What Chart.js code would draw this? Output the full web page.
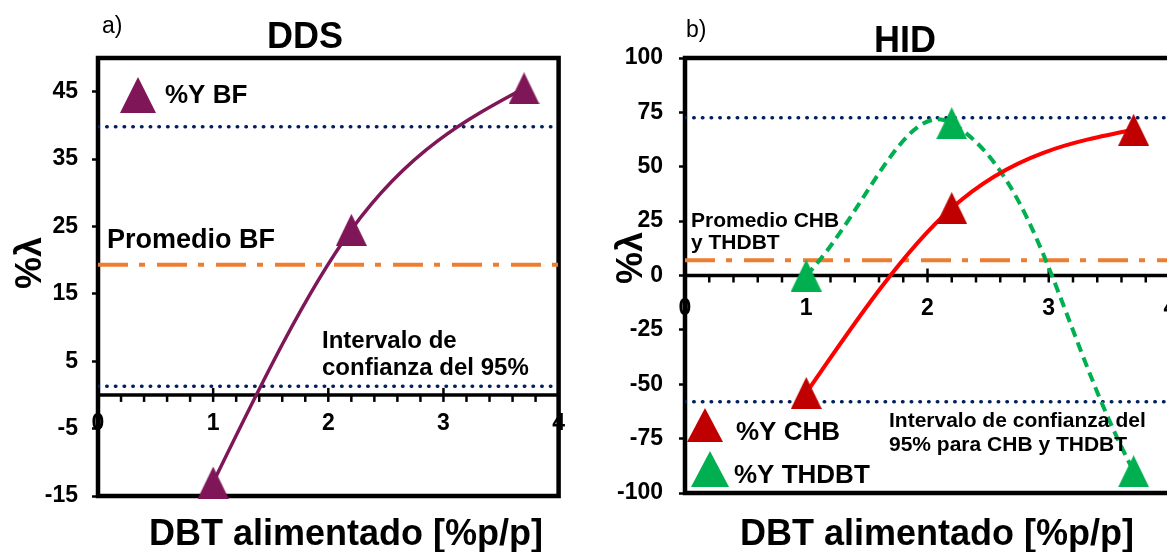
<!DOCTYPE html>
<html>
<head>
<meta charset="utf-8">
<script src="https://cdn.jsdelivr.net/npm/chart.js@4.4.1/dist/chart.umd.min.js"></script>
<style>
  html, body { margin: 0; padding: 0; background: #fff; overflow: hidden; }
  #wrap { position: relative; width: 1167px; height: 552px; overflow: hidden; background: #fff; }
  canvas { position: absolute; top: 0; }
  #dds { left: 0; }
  #hid { left: 580px; }
</style>
</head>
<body>
<div id="wrap">
  <canvas id="dds" width="580" height="552"></canvas>
  <canvas id="hid" width="620" height="552"></canvas>
</div>
<script>
const FONT = "'Liberation Sans', Arial, Helvetica, sans-serif";

// DBT fed, %w/w
const dbtFed = [1, 2.2, 3.7];
const xRange = [0, 4];
const xTicks = [0, 1, 2, 3, 4];

// a) DDS
const yieldBF = [-13, 24.5, 45.5];
const meanBF = 19.3;
const ciBF = [1.3, 39.8];
const yTicksDDS = [-15, -5, 5, 15, 25, 35, 45];

// b) HID
const yieldCHB = [-54, 31, 67];
const yieldTHDBT = [0, 70, -90];
const meanHID = 7;
const ciHID = [-58, 72.5];
const yTicksHID = [-100, -75, -50, -25, 0, 25, 50, 75, 100];

const PURPLE = '#7f1657';
const RED_MARK = '#c00000';
const RED_LINE = '#ff0000';
const GREEN = '#00b050';
const NAVY = '#002060';
const ORANGE = '#ed7d31';

function triangle(color, w, h) {
  const c = document.createElement('canvas');
  c.width = w; c.height = h;
  const g = c.getContext('2d');
  g.fillStyle = color;
  g.beginPath();
  g.moveTo(w / 2, 0); g.lineTo(w, h); g.lineTo(0, h);
  g.closePath(); g.fill();
  return c;
}

function series(ys, markColor, lineColor, width, dash, natural) {
  return {
    data: dbtFed.map((x, i) => ({ x, y: ys[i] })),
    showLine: true,
    tension: 0.4,
    naturalSpline: !!natural,
    borderColor: lineColor,
    borderWidth: width,
    borderDash: dash || [],
    backgroundColor: markColor,
    pointStyle: triangle(markColor, 31, 32),
    pointRadius: 16,
    clip: false
  };
}

function refLine(y, color, width, dash, cap) {
  return {
    data: xRange.map(x => ({ x, y })),
    showLine: true,
    tension: 0,
    borderColor: color,
    borderWidth: width,
    borderDash: dash,
    borderCapStyle: cap || 'butt',
    pointRadius: 0
  };
}

function scaleSet(yMin, yMax, yTicks, yWidth, yPad, xPad) {
  const tickFont = { family: FONT, size: 23, weight: 'bold', lineHeight: 1.2 };
  return {
    x: {
      type: 'linear', axis: 'x', min: xRange[0], max: xRange[1],
      position: { y: 0 },
      afterBuildTicks: s => { s.ticks = xTicks.map(v => ({ value: v })); },
      grid: { display: false, drawTicks: false },
      border: { display: false },
      ticks: { color: '#000', font: tickFont, padding: xPad, maxRotation: 0, autoSkip: false, callback: v => String(v) }
    },
    y: {
      type: 'linear', min: yMin, max: yMax, position: 'left',
      afterBuildTicks: s => { s.ticks = yTicks.map(v => ({ value: v })); },
      afterFit: s => { s.width = yWidth; },
      grid: { drawOnChartArea: false, drawTicks: true, tickLength: 6, tickWidth: 2.5, tickColor: '#000' },
      border: { display: false },
      ticks: { color: '#000', font: tickFont, padding: yPad, autoSkip: false, callback: v => String(v) }
    }
  };
}

// natural cubic spline through the line's points (zero curvature at both ends)
const naturalSpline = {
  id: 'naturalSpline',
  beforeDatasetDraw(chart, args) {
    const ds = chart.data.datasets[args.index];
    const line = args.meta.dataset;
    if (!ds.naturalSpline || !line) return;
    line.updateControlPoints(chart.chartArea, 'x');
    const p = line.points;
    const n = p.length;
    if (n < 3) return;
    const h = [], d = [];
    for (let i = 0; i < n - 1; i++) {
      h.push(p[i + 1].x - p[i].x);
      d.push((p[i + 1].y - p[i].y) / h[i]);
    }
    // tridiagonal solve for the inner second derivatives
    const M = new Array(n).fill(0);
    const c = [], r = [];
    for (let i = 1; i < n - 1; i++) {
      const a = h[i - 1], b = 2 * (h[i - 1] + h[i]), cc = h[i];
      let rhs = 6 * (d[i] - d[i - 1]);
      let bb = b;
      if (i > 1) { const w = a / c[c.length - 1].b; bb = b - w * c[c.length - 1].c; rhs -= w * r[r.length - 1]; }
      c.push({ b: bb, c: cc });
      r.push(rhs);
    }
    for (let k = c.length - 1; k >= 0; k--) {
      const next = k + 2 < n ? M[k + 2] : 0;
      M[k + 1] = (r[k] - c[k].c * next) / c[k].b;
    }
    const m = [];
    for (let i = 0; i < n - 1; i++) m.push(d[i] - h[i] * (2 * M[i] + M[i + 1]) / 6);
    m.push(d[n - 2] + h[n - 2] * (M[n - 2] + 2 * M[n - 1]) / 6);
    for (let i = 0; i < n; i++) {
      if (i > 0) { p[i].cp1x = p[i].x - h[i - 1] / 3; p[i].cp1y = p[i].y - m[i] * h[i - 1] / 3; }
      if (i < n - 1) { p[i].cp2x = p[i].x + h[i] / 3; p[i].cp2y = p[i].y + m[i] * h[i] / 3; }
    }
  }
};

// plot frame, axis line through y = 0 and its major/minor tick marks
function makeFrame(rightSide) {
  return {
    id: 'frame',
    beforeDatasetsDraw(chart) {
      const { ctx, chartArea: a, scales: { x, y } } = chart;
      ctx.save();
      ctx.strokeStyle = '#000';
      ctx.lineWidth = 4.5;
      ctx.beginPath();
      if (rightSide) {
        ctx.rect(a.left, a.top, a.right - a.left, a.bottom - a.top);
      } else {
        ctx.moveTo(a.right + 5, a.top);
        ctx.lineTo(a.left, a.top);
        ctx.lineTo(a.left, a.bottom);
        ctx.lineTo(a.right + 5, a.bottom);
      }
      ctx.stroke();
      const y0 = y.getPixelForValue(0);
      ctx.lineWidth = 3.5;
      ctx.beginPath(); ctx.moveTo(a.left, y0); ctx.lineTo(a.right, y0); ctx.stroke();
      ctx.lineWidth = 2.5;
      for (let i = 0; i <= 20; i++) {
        const px = x.getPixelForValue(i / 5);
        const major = i % 5 === 0;
        ctx.beginPath();
        ctx.moveTo(px, major ? y0 - 7 : y0);
        ctx.lineTo(px, y0 + 7);
        ctx.stroke();
      }
      ctx.restore();
    }
  };
}

function txt(ctx, s, x, y, size, weight, align) {
  ctx.font = `${weight || 'bold'} ${size}px ${FONT}`;
  ctx.textAlign = align || 'left';
  ctx.textBaseline = 'alphabetic';
  ctx.fillStyle = '#000';
  ctx.fillText(s, x, y);
}

function vtxt(ctx, s, cx, cy, size) {
  ctx.save();
  ctx.translate(cx, cy);
  ctx.rotate(-Math.PI / 2);
  ctx.font = `bold ${size}px ${FONT}`;
  ctx.textAlign = 'center';
  ctx.textBaseline = 'middle';
  ctx.fillStyle = '#000';
  ctx.fillText(s, 0, 0);
  ctx.restore();
}

const labelsDDS = {
  id: 'labelsDDS',
  afterDraw(chart) {
    const ctx = chart.ctx;
    ctx.save();
    txt(ctx, 'a)', 102, 33, 23, 'normal');
    txt(ctx, 'DDS', 305, 48, 36, 'bold', 'center');
    ctx.drawImage(triangle(PURPLE, 36, 36), 120, 77);
    txt(ctx, '%Y BF', 165, 103, 26);
    txt(ctx, 'Promedio BF', 107, 248, 27);
    txt(ctx, 'Intervalo de', 322, 348, 24);
    txt(ctx, 'confianza del 95%', 322, 375, 24);
    vtxt(ctx, '%λ', 31, 263, 36);
    txt(ctx, 'DBT alimentado [%p/p]', 346, 545, 36, 'bold', 'center');
    ctx.restore();
  }
};

const OX = 580;
const labelsHID = {
  id: 'labelsHID',
  afterDraw(chart) {
    const ctx = chart.ctx;
    ctx.save();
    txt(ctx, 'b)', 686 - OX, 37, 23, 'normal');
    txt(ctx, 'HID', 905 - OX, 52, 36, 'bold', 'center');
    txt(ctx, 'Promedio CHB', 691 - OX, 227, 21);
    txt(ctx, 'y THDBT', 691 - OX, 249, 21);
    txt(ctx, 'Intervalo de confianza del', 889 - OX, 427, 21);
    txt(ctx, '95% para CHB y THDBT', 889 - OX, 451, 21);
    ctx.drawImage(triangle(RED_MARK, 36, 34), 687 - OX, 408);
    txt(ctx, '%Y CHB', 736 - OX, 440, 26);
    ctx.drawImage(triangle(GREEN, 38, 36), 691 - OX, 451);
    txt(ctx, '%Y THDBT', 734 - OX, 483, 26);
    vtxt(ctx, '%λ', 632 - OX, 258, 36);
    txt(ctx, 'DBT alimentado [%p/p]', 937 - OX, 545, 36, 'bold', 'center');
    ctx.restore();
  }
};

const common = {
  responsive: false,
  animation: false,
  devicePixelRatio: 1,
  events: [],
  plugins: { legend: { display: false }, tooltip: { enabled: false } }
};

const dotted = [0.5, 8.2];
const dashDot = [30, 11, 6, 12];

new Chart(document.getElementById('dds'), {
  type: 'scatter',
  data: {
    datasets: [
      series(yieldBF, PURPLE, PURPLE, 3.5, null, true),
      refLine(meanBF, ORANGE, 4, dashDot),
      refLine(ciBF[1], NAVY, 3.5, dotted, 'round'),
      refLine(ciBF[0], NAVY, 3.5, dotted, 'round')
    ]
  },
  options: Object.assign({}, common, {
    layout: { padding: { left: 0, top: 58, right: 17, bottom: 56 } },
    scales: scaleSet(-15, 50, yTicksDDS, 98, 14, 15)
  }),
  plugins: [makeFrame(true), naturalSpline, labelsDDS]
});

new Chart(document.getElementById('hid'), {
  type: 'scatter',
  data: {
    datasets: [
      series(yieldCHB, RED_MARK, RED_LINE, 4, null, true),
      series(yieldTHDBT, GREEN, GREEN, 4, [10, 6]),
      refLine(meanHID, ORANGE, 4, dashDot),
      refLine(ciHID[1], NAVY, 3.5, dotted, 'round'),
      refLine(ciHID[0], NAVY, 3.5, dotted, 'round')
    ]
  },
  options: Object.assign({}, common, {
    layout: { padding: { left: 0, top: 58, right: 30, bottom: 59 } },
    scales: scaleSet(-100, 100, yTicksHID, 105, 16, 19)
  }),
  plugins: [makeFrame(false), naturalSpline, labelsHID]
});
</script>
</body>
</html>
